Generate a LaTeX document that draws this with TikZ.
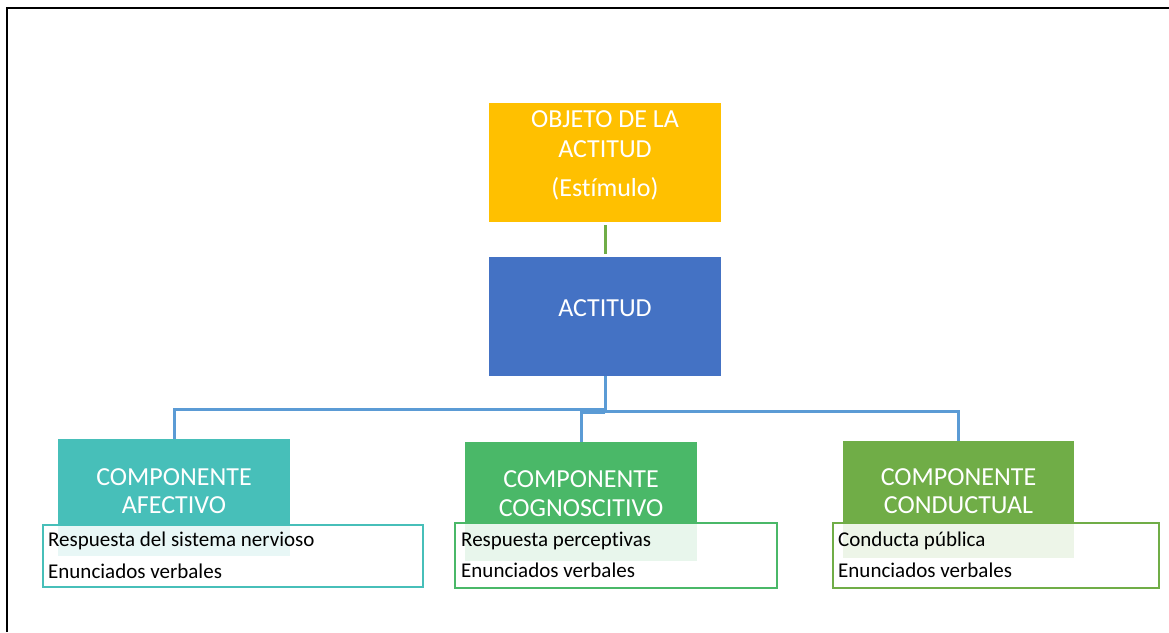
\documentclass[tikz,border=0pt]{standalone}
\usepackage{fontspec}
\setmainfont{Carlito}[Ligatures={NoCommon}]
\definecolor{cYellow}{HTML}{FFC000}
\definecolor{cBlue}{HTML}{4472C4}
\definecolor{cLine}{HTML}{5B9BD5}
\definecolor{cTeal}{HTML}{47BFB9}
\definecolor{cGreenA}{HTML}{4AB868}
\definecolor{cGreenB}{HTML}{70AD47}
\begin{document}
\begin{tikzpicture}[x=1pt,y=-1pt,
  box/.style={draw=none,inner sep=0pt,outer sep=0pt},
  hdr/.style={text=white,font=\fontsize{26}{28}\selectfont,anchor=base,inner sep=0pt},
  det/.style={text=black,font=\fontsize{21}{24}\selectfont,anchor=base west,inner sep=0pt},
  detbox/.style={line width=2.4pt,fill=white,fill opacity=0.88,draw opacity=1},
  conn/.style={draw=cLine,line width=3pt},
]
\useasboundingbox (0,0) rectangle (1169,632);
% frame
\draw[line width=1.8pt,black] (7,632) -- (7,8) -- (1169,8);

% top boxes
\fill[cYellow] (489,103) rectangle (721,222);
\node[box] (obj) at (605,162.5) [minimum width=232pt,minimum height=119pt] {};
\node[hdr] (o1) at (605,127) {OBJETO DE LA};
\node[hdr] (o2) at (605,157) {ACTITUD};
\node[hdr] (o3) at (605,196) {(Estímulo)};

\fill[cBlue] (489,257) rectangle (721,376);
\node[box] (act) at (605,316.5) [minimum width=232pt,minimum height=119pt] {};
\node[hdr] (a1) at (605,316) {ACTITUD};

\coordinate (g1) at (605,225);
\coordinate (g2) at (605,254);
\draw[cGreenB,line width=3pt] (g1) -- (g2);

% headers
\fill[cTeal] (58,439) rectangle (290,556);
\node[box] (afe) at (174,497.5) [minimum width=232pt,minimum height=117pt] {};
\fill[cGreenA] (465,442) rectangle (697,561);
\node[box] (cog) at (581,501.5) [minimum width=232pt,minimum height=119pt] {};
\fill[cGreenB] (843,441) rectangle (1074,558);
\node[box] (con) at (958.5,499.5) [minimum width=231pt,minimum height=117pt] {};

% connectors
\draw[conn] (act.south) -- ++(0,33) coordinate (j) -| (afe.north);
\draw[conn] (605,411) -| (con.north);
\draw[conn] (605,412.5) -| (cog.north);

\node[hdr] (af1) at (174,485) {COMPONENTE};
\node[hdr] (af2) at (174,513) {AFECTIVO};
\node[hdr] (cg1) at (581,487) {COMPONENTE};
\node[hdr] (cg2) at (581,516) {COGNOSCITIVO};
\node[hdr] (cd1) at (958.5,485) {COMPONENTE};
\node[hdr] (cd2) at (958.5,513) {CONDUCTUAL};

% detail boxes
\draw[detbox,draw=cTeal] (43,525) rectangle (423,587);
\draw[detbox,draw=cGreenA] (455,523) rectangle (777,588);
\draw[detbox,draw=cGreenB] (833,523) rectangle (1159,588);

\node[det] (d11) at (48,546) {Respuesta del sistema nervioso};
\node[det] (d12) at (48,578) {Enunciados verbales};
\node[det] (d21) at (461,546) {Respuesta perceptivas};
\node[det] (d22) at (461,577) {Enunciados verbales};
\node[det] (d31) at (838,546) {Conducta pública};
\node[det] (d32) at (838,577) {Enunciados verbales};
\end{tikzpicture}
\end{document}
